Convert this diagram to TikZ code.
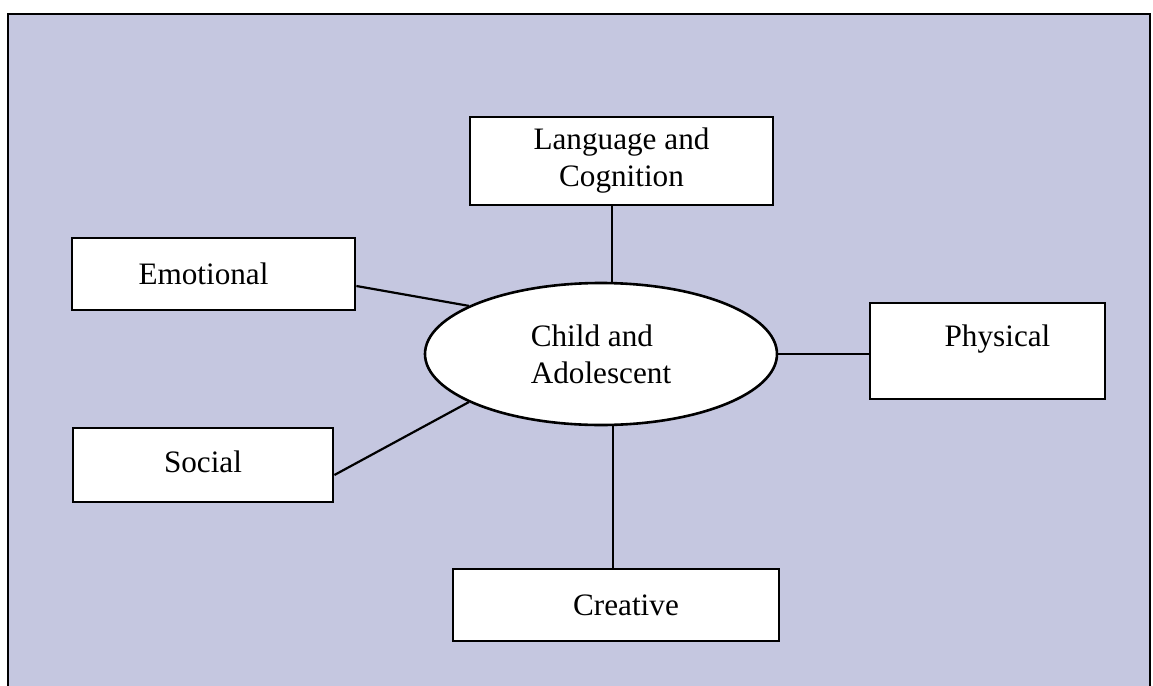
\documentclass[tikz,border=0pt]{standalone}
\usepackage{fontspec}
\setmainfont{Liberation Serif}
\usetikzlibrary{shapes.geometric}
\definecolor{bg}{RGB}{197,199,224}
\tikzset{
	bx/.style={draw, fill=white, line width=1.4pt, align=center, font=\fontsize{15.6}{18.5}\selectfont},
	el/.style={ellipse, draw, fill=white, line width=1.3pt, inner sep=0pt, align=left, font=\fontsize{15.6}{18.5}\selectfont},
	ln/.style={line width=1.1pt},
}

\begin{document}
\begin{tikzpicture}[x=0.5pt,y=-0.5pt]
	\useasboundingbox (0,0) rectangle (1153,686);
	\fill [white] (0,0) rectangle (1153,686);
	\fill [bg] (8,14) rectangle (1150,686);
	\draw [line width=1.4pt] (8,686) -- (8,14) -- (1150,14) -- (1150,686);

	\node [bx, minimum width=151.5pt, minimum height=44pt] (lang) at (621.5,161) {Language and\\Cognition};
	\node [bx, minimum width=141.5pt, minimum height=36pt] (emo) at (213.5,274) {Emotional\hspace{10pt}};
	\node [bx, minimum width=117.5pt, minimum height=48pt, text height=11pt, text depth=16pt] (phys) at (987.5,351) {\hspace{10pt}Physical};
	\node [bx, minimum width=130pt, minimum height=37pt, text height=11pt, text depth=4pt] (soc) at (203,465) {Social};
	\node [bx, minimum width=163pt, minimum height=36pt] (creat) at (616,605) {\hspace{10pt}Creative};
	\node [el, minimum width=176pt, minimum height=71pt] (child) at (601,354) {Child and\\Adolescent};

	\draw [ln] ([yshift=-6pt]emo.east) -- (child.160);
	\draw [ln] ([yshift=-5pt]soc.east) -- (child.200);
	\draw [ln] ([xshift=-4.75pt]lang.south) -- ([xshift=-4.75pt]lang.south |- child.north);
	\draw [ln] (child.east) -- (child.east -| phys.west);
	\draw [ln] ([xshift=6pt]child.south) -- ([xshift=6pt]child.south |- creat.north);
\end{tikzpicture}
\end{document}
